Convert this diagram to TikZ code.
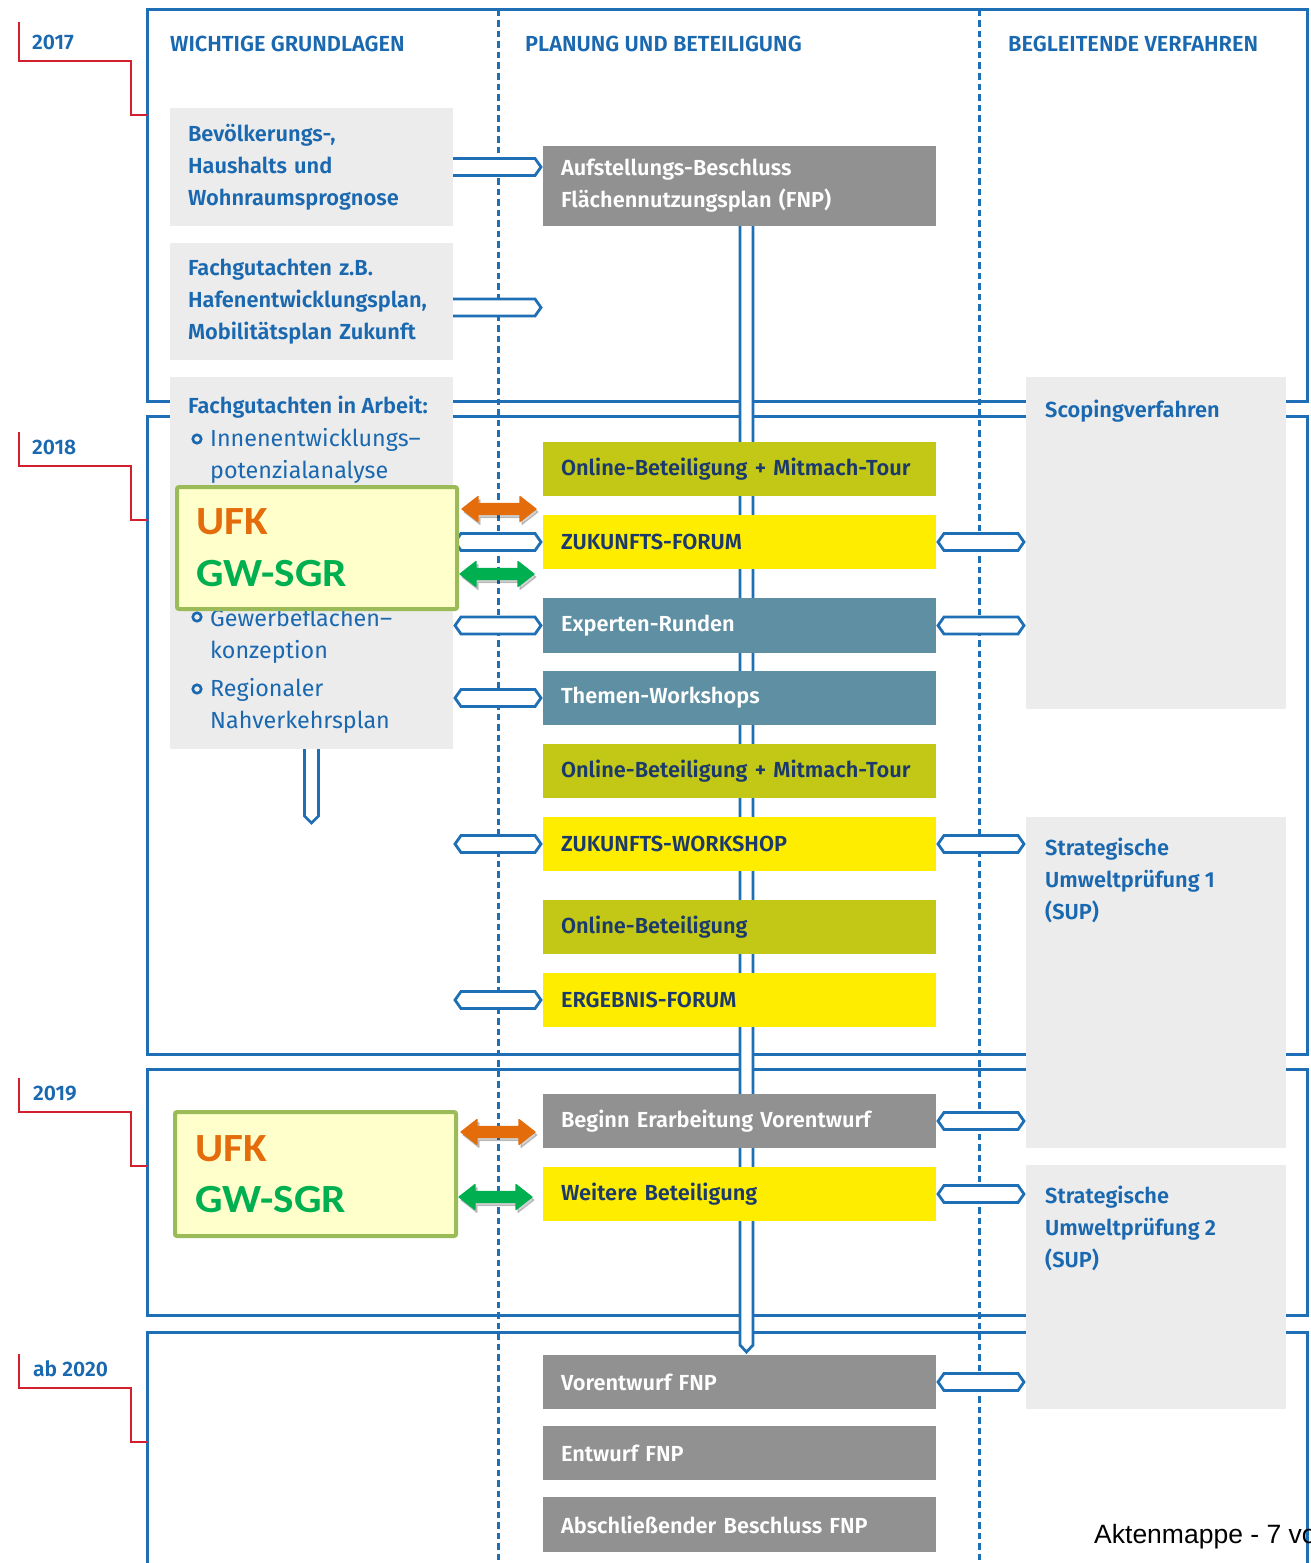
\documentclass[tikz,border=0pt]{standalone}
\usepackage{fontspec}
\setmainfont{Fira Sans}[BoldFont={Fira Sans SemiBold}]
\newfontfamily\arialfont{Liberation Sans}
\newfontfamily\calfont{Carlito}
\usetikzlibrary{calc}
\definecolor{fblue}{HTML}{1F6FB7}
\definecolor{tblue}{HTML}{1A68AF}
\definecolor{navy}{HTML}{1B3A6B}
\definecolor{lgray}{HTML}{ECECEC}
\definecolor{dgray}{HTML}{919191}
\definecolor{tealb}{HTML}{5E8FA3}
\definecolor{olive}{HTML}{C3C816}
\definecolor{yel}{HTML}{FFED00}
\definecolor{redl}{HTML}{D2202E}
\definecolor{ufkfill}{HTML}{FFFFCC}
\definecolor{ufkline}{HTML}{9BBB59}
\definecolor{ufkor}{HTML}{E46C0A}
\definecolor{ufkgr}{HTML}{00B050}
\pgfdeclarelayer{frames}
\pgfdeclarelayer{conns}
\pgfsetlayers{frames,conns,main}
\newcommand\hexconn[2]{%
 \path[conn] let \p1=(#1), \p2=(#2) in (\x1+2pt,\y1) -- (\x1+8pt,\y1+8.5pt) -- (\x2-8pt,\y2+8.5pt) -- (\x2-2pt,\y2) -- (\x2-8pt,\y2-8.5pt) -- (\x1+8pt,\y1-8.5pt) -- cycle;}
\newcommand\rconn[2]{%
 \path[conn] let \p1=(#1), \p2=(#2) in (\x1-4pt,\y1+8.5pt) -- (\x2-8pt,\y2+8.5pt) -- (\x2-2pt,\y2) -- (\x2-8pt,\y2-8.5pt) -- (\x1-4pt,\y1-8.5pt) -- cycle;}
\newcommand\dpipe[3]{%
 \path[conn] let \p1=(#1), \p2=(#2) in (\x1-#3,\y1+4pt) -- (\x1-#3,\y2+7pt) -- (\x1,\y2) -- (\x1+#3,\y2+7pt) -- (\x1+#3,\y1+4pt);}
\newcommand\dblarrow[3]{%
 \path[fill=#1,draw=#1,line width=1.2pt,line join=round] let \p1=(#2), \p2=(#3) in (\x1,\y1) -- (\x1+16pt,\y1+12.5pt) -- (\x1+16pt,\y1+5.5pt) -- (\x2-16pt,\y1+5.5pt) -- (\x2-16pt,\y1+12.5pt) -- (\x2,\y1) -- (\x2-16pt,\y1-12.5pt) -- (\x2-16pt,\y1-5.5pt) -- (\x1+16pt,\y1-5.5pt) -- (\x1+16pt,\y1-12.5pt) -- cycle;}
\tikzset{
 frame/.style={draw=fblue,line width=3pt},
 dline/.style={draw=fblue,line width=3pt,dash pattern=on 6.5pt off 4pt},
 yearline/.style={draw=redl,line width=2.5pt},
 conn/.style={draw=fblue,fill=white,line width=2.8pt,line join=miter},
 gbox/.style={fill=lgray,anchor=north west,inner sep=0pt,outer sep=0pt},
 gtbox/.style={fill=lgray,anchor=north west,inner xsep=18pt,inner ysep=0pt,outer sep=0pt,minimum width=283pt,text width=247pt,align=left,text=tblue,font=\bfseries\fontsize{21.8}{32}\selectfont},
 cbox/.style={anchor=north west,minimum width=393pt,minimum height=54pt,inner xsep=18pt,inner ysep=0pt,text width=357pt,align=left,font=\bfseries\fontsize{21.8}{32}\selectfont,outer sep=0pt},
 hdr/.style={anchor=base west,inner sep=0pt,text=tblue,font=\bfseries\fontsize{21.8}{24}\selectfont},
 year/.style={anchor=base west,inner sep=0pt,text=tblue,font=\bfseries\fontsize{21}{24}\selectfont},
 btxt/.style={anchor=base west,inner sep=0pt,text=tblue,font=\bfseries\fontsize{21.8}{24}\selectfont},
 ltxt/.style={anchor=base west,inner sep=0pt,text=tblue,font=\fontsize{23.3}{24}\selectfont},
 bul/.style={circle,draw=tblue,line width=2.6pt,minimum size=8.5pt,inner sep=0pt},
 ufk/.style={anchor=north west,draw=ufkline,fill=ufkfill,line width=4pt,rounded corners=2pt,minimum width=280pt,minimum height=122pt,inner sep=0pt},
 ufktxt/.style={anchor=base west,inner sep=0pt,xscale=1.08,font=\calfont\bfseries\fontsize{40}{42}\selectfont}
}
\begin{document}
\begin{tikzpicture}[x=1pt,y=-1pt]
\useasboundingbox (0,0) rectangle (1310,1563);
\clip (0,0) rectangle (1310,1563);

% ---------- left gray boxes ----------
\node[gtbox,minimum height=118pt] (g1) at (170,108) {\rule{0pt}{4pt}Bevölkerungs-,\\Haushalts und\\Wohnraumsprognose};
\node[gtbox,minimum height=117pt] (g2) at (170,243) {\rule{0pt}{4pt}Fachgutachten z.B.\\Hafenentwicklungsplan,\\Mobilitätsplan Zukunft};
\node[gbox,minimum width=283pt,minimum height=372pt] (g3) at (170,377) {};
\node[btxt] (g3h) at (188,413) {Fachgutachten in Arbeit:};
\node[bul] (bu1) at (197,439) {};
\node[ltxt] (l1a) at (210,446) {Innenentwicklungs–};
\node[ltxt] (l1b) at (210,478) {potenzialanalyse};
\node[bul] (bu2) at (197,617) {};
\node[ltxt] (l2a) at (210,626) {Gewerbeflächen–};
\node[ltxt] (l2b) at (210,658) {konzeption};
\node[bul] (bu3) at (197,689) {};
\node[ltxt] (l3a) at (210,696) {Regionaler};
\node[ltxt] (l3b) at (210,728) {Nahverkehrsplan};

% ---------- right gray boxes ----------
\node[gbox,minimum width=260pt,minimum height=332pt] (r1) at (1026,377) {};
\node[gbox,minimum width=260pt,minimum height=331pt] (r2) at (1026,817) {};
\node[gbox,minimum width=260pt,minimum height=244pt] (r3) at (1026,1165) {};
\node[btxt] (r1t) at (1045,417) {Scopingverfahren};
\node[btxt] (r2a) at (1045,855) {Strategische};
\node[btxt] (r2b) at (1045,887) {Umweltprüfung 1};
\node[btxt] (r2c) at (1045,919) {(SUP)};
\node[btxt] (r3a) at (1045,1203) {Strategische};
\node[btxt] (r3b) at (1045,1235) {Umweltprüfung 2};
\node[btxt] (r3c) at (1045,1267) {(SUP)};

% ---------- centre boxes ----------
\node[cbox,fill=dgray,text=white,minimum height=80pt] (b1) at (543,146) {\rule{0pt}{6pt}Aufstellungs-Beschluss\\Flächennutzungsplan (FNP)};
\node[cbox,fill=olive,text=navy] (b2) at (543,442) {Online-Beteiligung + Mitmach-Tour};
\node[cbox,fill=yel,text=navy] (b3) at (543,515) {ZUKUNFTS-FORUM};
\node[cbox,fill=tealb,text=white,minimum height=55pt] (b4) at (543,598) {Experten-Runden};
\node[cbox,fill=tealb,text=white] (b5) at (543,671) {Themen-Workshops};
\node[cbox,fill=olive,text=navy] (b6) at (543,744) {Online-Beteiligung + Mitmach-Tour};
\node[cbox,fill=yel,text=navy] (b7) at (543,817) {ZUKUNFTS-WORKSHOP};
\node[cbox,fill=olive,text=navy] (b8) at (543,900) {Online-Beteiligung};
\node[cbox,fill=yel,text=navy] (b9) at (543,973) {ERGEBNIS-FORUM};
\node[cbox,fill=dgray,text=white] (b10) at (543,1094) {Beginn Erarbeitung Vorentwurf};
\node[cbox,fill=yel,text=navy] (b11) at (543,1167) {Weitere Beteiligung};
\node[cbox,fill=dgray,text=white] (b12) at (543,1355) {Vorentwurf FNP};
\node[cbox,fill=dgray,text=white] (b13) at (543,1426) {Entwurf FNP};
\node[cbox,fill=dgray,text=white,minimum height=55pt] (b14) at (543,1497) {Abschließender Beschluss FNP};

% ---------- headers and years ----------
\node[hdr] (hA) at (170,52) {WICHTIGE GRUNDLAGEN};
\node[hdr] (hB) at (525,52) {PLANUNG UND BETEILIGUNG};
\node[hdr] (hC) at (1008,52) {BEGLEITENDE VERFAHREN};
\node[year] (y1) at (32,49) {2017};
\node[year] (y2) at (32,454) {2018};
\node[year] (y3) at (33,1100) {2019};
\node[year] (y4) at (33,1376) {ab 2020};

% ---------- UFK boxes ----------
\node[ufk] (u1) at (175,485) {};
\node[ufktxt,text=ufkor] (u1a) at (196,534) {UFK};
\node[ufktxt,text=ufkgr] (u1b) at (196,586) {GW-SGR};
\node[ufk,minimum height=124pt,minimum width=281pt] (u2) at (173,1110) {};
\node[ufktxt,text=ufkor] (u2a) at (195,1161) {UFK};
\node[ufktxt,text=ufkgr] (u2b) at (195,1212) {GW-SGR};

\coordinate (oa1) at (462,509); \coordinate (oa2) at (536,509);
\coordinate (ga1) at (460,574); \coordinate (ga2) at (534,574);
\coordinate (ob1) at (461,1132); \coordinate (ob2) at (535,1132);
\coordinate (gb1) at (459,1197); \coordinate (gb2) at (532,1197);
\begin{scope}[opacity=0.18]
\dblarrow{black}{$(oa1)+(2,3)$}{$(oa2)+(2,3)$}
\dblarrow{black}{$(ga1)+(2,3)$}{$(ga2)+(2,3)$}
\dblarrow{black}{$(ob1)+(2,3)$}{$(ob2)+(2,3)$}
\dblarrow{black}{$(gb1)+(2,3)$}{$(gb2)+(2,3)$}
\end{scope}
\dblarrow{ufkor}{oa1}{oa2}
\dblarrow{ufkgr}{ga1}{ga2}
\dblarrow{ufkor}{ob1}{ob2}
\dblarrow{ufkgr}{gb1}{gb2}

\node[anchor=base west,inner sep=0pt,font=\arialfont\fontsize{26.5}{30}\selectfont] (akt) at (1094,1543) {Aktenmappe - 7 vo};

% ---------- frames ----------
\begin{pgfonlayer}{frames}
\fill[white] (0,0) rectangle (1310,1563);
\draw[frame] (147,10) rectangle (1307,401);
\draw[frame] (147,416) rectangle (1307,1054);
\draw[frame] (147,1069) rectangle (1307,1315);
\draw[frame] (147,1600) -- (147,1332) -- (1307,1332) -- (1307,1600);
\draw[dline] (498,10) -- (498,1563);
\draw[dline] (979,10) -- (979,1563);
\draw[yearline] (19,22) -- (19,61) -- (131,61) -- (131,115) -- (147,115);
\draw[yearline] (19,432) -- (19,466) -- (131,466) -- (131,520) -- (147,520);
\draw[yearline] (19,1078) -- (19,1112) -- (131,1112) -- (131,1166) -- (147,1166);
\draw[yearline] (19,1354) -- (19,1388) -- (131,1388) -- (131,1442) -- (147,1442);
\end{pgfonlayer}

% ---------- connectors ----------
\begin{pgfonlayer}{conns}
\dpipe{$(b1.south)+(7,0)$}{$(b12.north)+(7,-3)$}{6.5pt}
\dpipe{g3.south}{$(g3.south)+(0,74)$}{7pt}
\rconn{g1.east}{b1.west |- g1.east}
\rconn{$(g2.east)+(0,6)$}{$(b1.west |- g2.east)+(0,6)$}
\hexconn{g3.east |- b3.west}{b3.west}
\hexconn{g3.east |- b4.west}{b4.west}
\hexconn{g3.east |- b5.west}{b5.west}
\hexconn{g3.east |- b7.west}{b7.west}
\hexconn{g3.east |- b9.west}{b9.west}
\hexconn{b3.east}{r1.west |- b3.east}
\hexconn{b4.east}{r1.west |- b4.east}
\hexconn{b7.east}{r2.west |- b7.east}
\hexconn{b10.east}{r2.west |- b10.east}
\hexconn{b11.east}{r3.west |- b11.east}
\hexconn{b12.east}{r3.west |- b12.east}
\end{pgfonlayer}
\end{tikzpicture}
\end{document}
